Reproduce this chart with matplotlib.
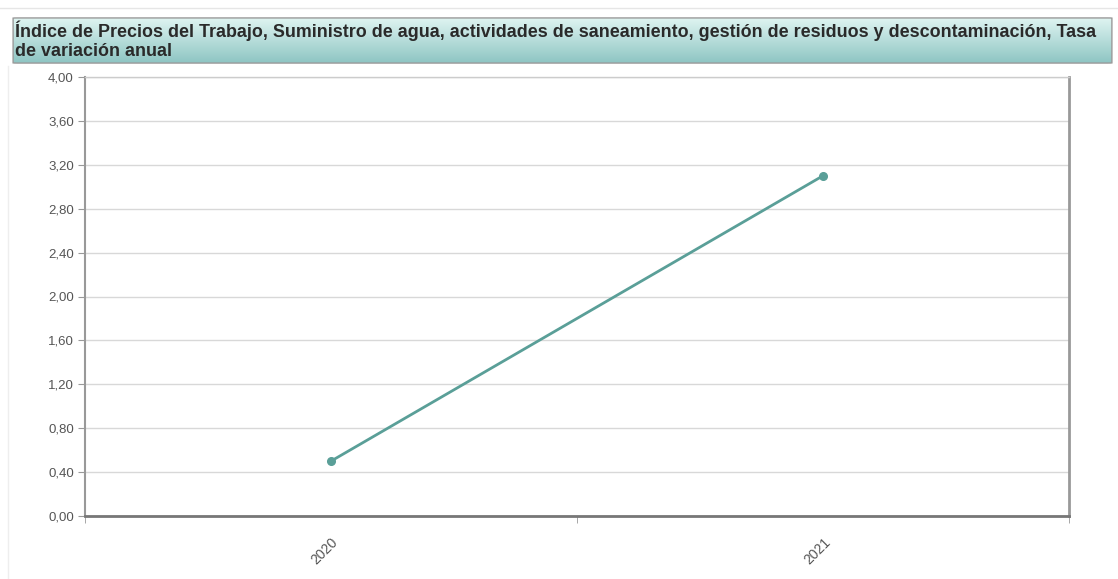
import matplotlib
matplotlib.use("Agg")
from matplotlib import pyplot as plt
from matplotlib.patches import FancyBboxPatch
from matplotlib.ticker import FixedLocator, FuncFormatter
import numpy as np

# Data
years = ["2020", "2021"]
values = [0.5, 3.1]
yticks = [0.0, 0.4, 0.8, 1.2, 1.6, 2.0, 2.4, 2.8, 3.2, 3.6, 4.0]
title = ("Índice de Precios del Trabajo, Suministro de agua, actividades de saneamiento, "
         "gestión de residuos y descontaminación, Tasa\nde variación anual")

W, H = 1118, 579
fig = plt.figure(figsize=(W / 100, H / 100), dpi=100)
plt.rcParams['font.family'] = ['Liberation Sans', 'DejaVu Sans']

# light page lines
fig.add_artist(plt.Line2D([0, 1], [1 - 8 / H, 1 - 8 / H], color="#e6e6e6", lw=1))
fig.add_artist(plt.Line2D([8 / W, 8 / W], [0, 1 - 66 / H], color="#eeeeee", lw=1))

# header with gradient
hx0, hx1, hy0, hy1 = 12 / W, 1113 / W, 1 - 64 / H, 1 - 17 / H
hax = fig.add_axes([hx0, hy0, hx1 - hx0, hy1 - hy0])
hax.set_xlim(0, 1)
hax.set_ylim(0, 1)
hax.axis("off")
grad = np.linspace(0, 1, 100).reshape(-1, 1)
top = np.array([0.88, 0.96, 0.95])
bot = np.array([0.55, 0.77, 0.76])
img = top * (1 - grad[..., None]) + bot * grad[..., None]
im = hax.imshow(img, extent=[0, 1, 0, 1], aspect="auto", origin="upper")
box = FancyBboxPatch((0.001, 0.02), 0.998, 0.96, boxstyle="round,pad=0,rounding_size=0.004",
                     transform=hax.transAxes, facecolor="none", edgecolor="#9a9a9a", lw=1)
hax.add_patch(box)
im.set_clip_path(box)
hax.text(0.003, 0.5, title, fontsize=12.9, fontweight="bold", color="#2a2a2a",
         va="center", ha="left", linespacing=1.12, transform=hax.transAxes)

# main chart
ax = fig.add_axes([85 / W, 1 - 516 / H, (1069 - 85) / W, (516 - 77) / H])
x = np.arange(len(years))
ax.plot(x, values, color="#5a9f98", lw=2.0, marker="o", ms=5.5, zorder=3)

ax.set_xlim(-0.5, len(years) - 0.5)
ax.set_ylim(0, 4.0)
ax.yaxis.set_major_locator(FixedLocator(yticks))
ax.yaxis.set_major_formatter(FuncFormatter(lambda v, p: f"{v:.2f}".replace(".", ",")))
ax.grid(axis="y", color="#d8d8d8", lw=1)
ax.set_axisbelow(True)

ax.set_xticks(x)
ax.set_xticklabels(years, rotation=45, ha="right", rotation_mode="anchor")
ax.set_xticks(np.arange(-0.5, len(years)), minor=True)
ax.tick_params(axis="x", which="major", length=0, pad=14, labelsize=10, labelcolor="#555555")
ax.tick_params(axis="x", which="minor", length=5, color="#999999", direction="out")
ax.tick_params(axis="y", length=5, color="#999999", labelsize=9.5, labelcolor="#555555", pad=3)

ax.spines["top"].set_color("#cccccc")
ax.spines["top"].set_linewidth(1)
ax.spines["left"].set_color("#999999")
ax.spines["left"].set_linewidth(1.5)
ax.spines["right"].set_color("#999999")
ax.spines["right"].set_linewidth(2)
ax.spines["bottom"].set_color("#777777")
ax.spines["bottom"].set_linewidth(2)

fig.savefig("out.png", dpi=100)
